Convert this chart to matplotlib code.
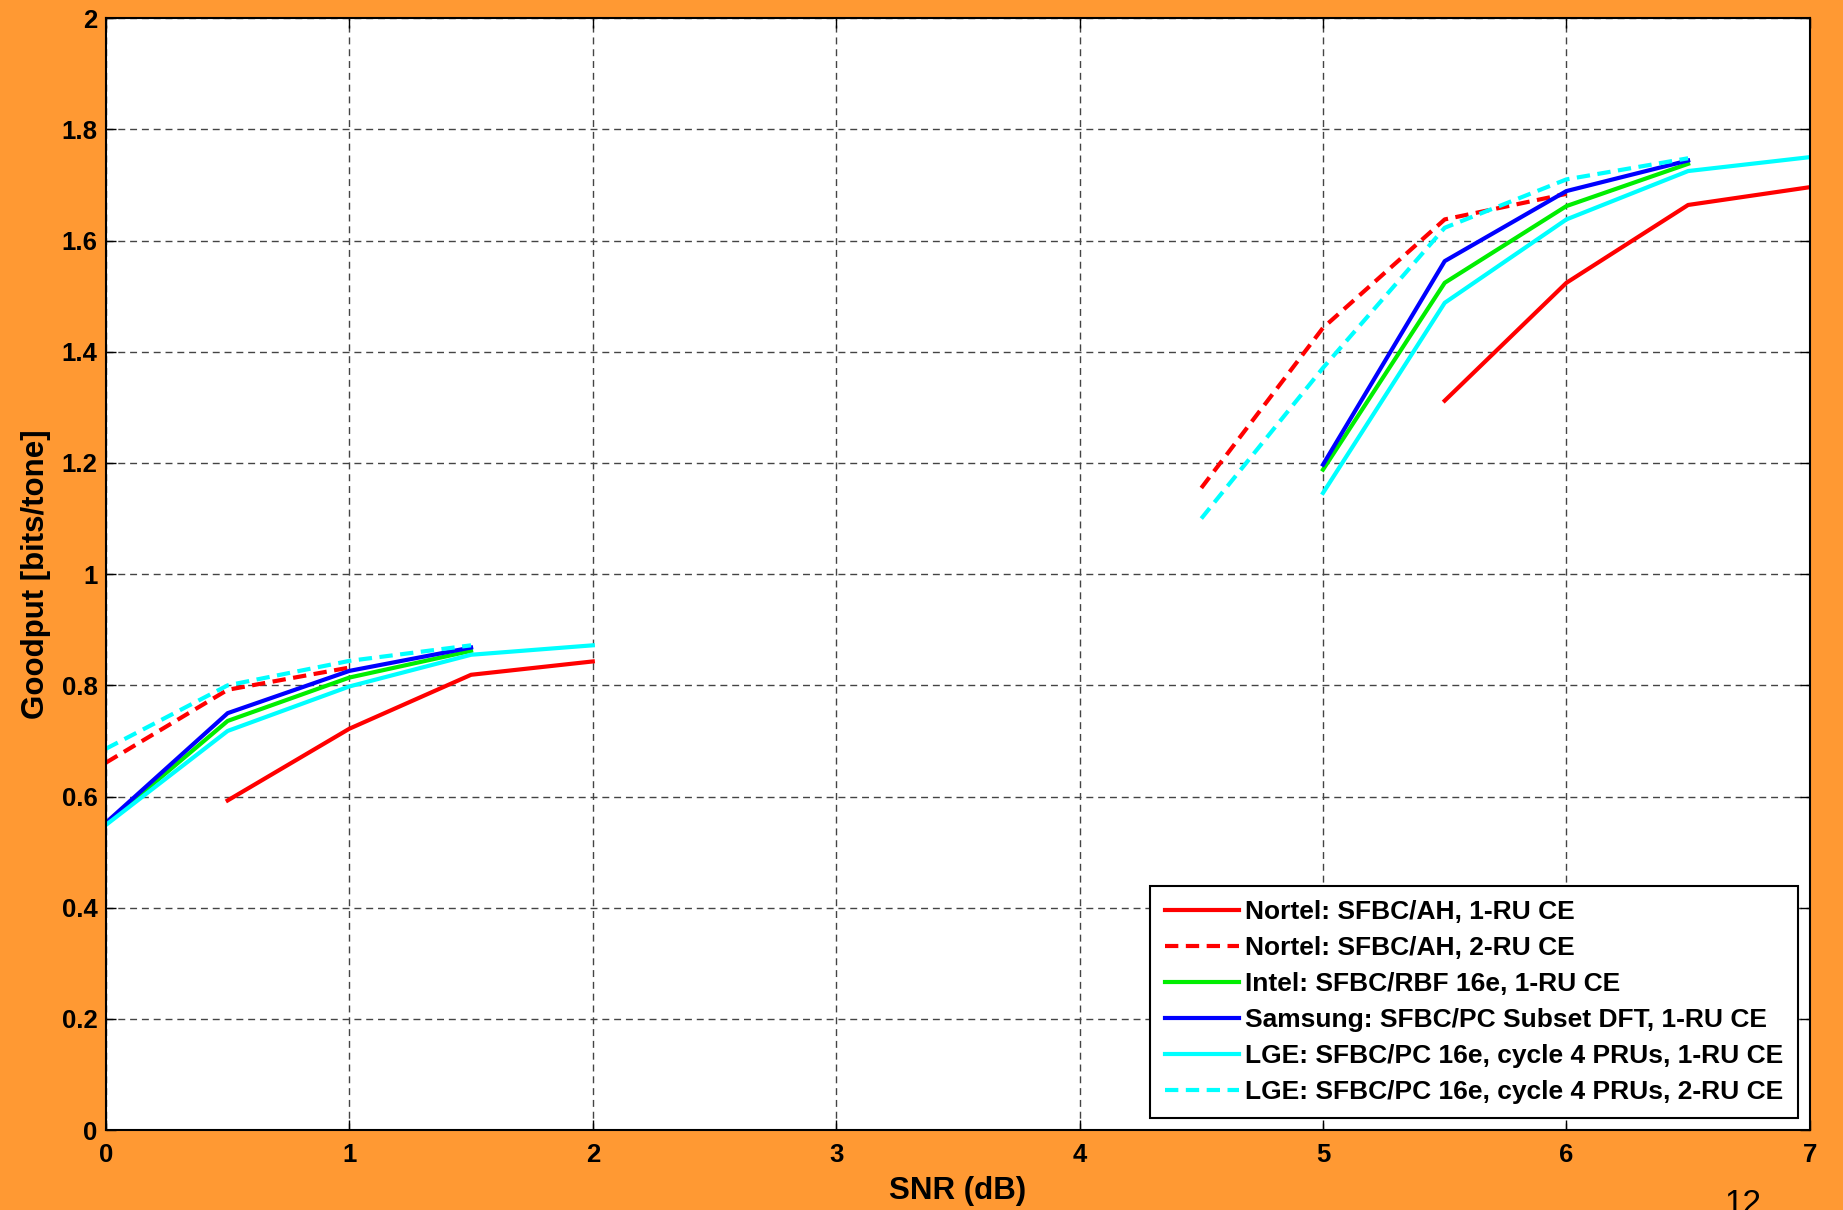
import numpy as np
import matplotlib.pyplot as plt

plt.rcParams['font.family'] = ['Liberation Sans', 'DejaVu Sans']

# SNR grid (dB), NaN where a curve has no value
snr = [0, 0.5, 1, 1.5, 2, 2.5, 3, 3.5, 4, 4.5, 5, 5.5, 6, 6.5, 7]
nan = np.nan

nortel_1ru = [nan, 0.593, 0.722, 0.819, 0.843, nan, nan, nan, nan, nan, nan, 1.312, 1.524, 1.664, 1.696]
nortel_2ru = [0.661, 0.792, 0.832, nan, nan, nan, nan, nan, nan, 1.155, 1.443, 1.638, 1.684, nan, nan]
intel_1ru = [0.551, 0.736, 0.814, 0.862, nan, nan, nan, nan, nan, nan, 1.188, 1.524, 1.662, 1.738, nan]
samsung_1ru = [0.553, 0.750, 0.826, 0.868, nan, nan, nan, nan, nan, nan, 1.197, 1.563, 1.689, 1.744, nan]
lge_1ru = [0.549, 0.718, 0.798, 0.855, 0.872, nan, nan, nan, nan, nan, 1.146, 1.488, 1.638, 1.725, 1.750]
lge_2ru = [0.686, 0.800, 0.844, 0.872, nan, nan, nan, nan, nan, 1.100, 1.371, 1.623, 1.710, 1.748, nan]

labels = ['Nortel: SFBC/AH, 1-RU CE',
          'Nortel: SFBC/AH, 2-RU CE',
          'Intel: SFBC/RBF 16e, 1-RU CE',
          'Samsung: SFBC/PC Subset DFT, 1-RU CE',
          'LGE: SFBC/PC 16e, cycle 4 PRUs, 1-RU CE',
          'LGE: SFBC/PC 16e, cycle 4 PRUs, 2-RU CE']

bg = '#ff9933'
fig = plt.figure(figsize=(18.43, 12.10), dpi=100, facecolor=bg)
ax = fig.add_axes([0.0575, 0.066, 0.9245, 0.919])
ax.set_facecolor('white')

lw = 3.0
dash = (0, (3.2, 1.8))
ax.plot(snr, nortel_1ru, color='#ff0000', lw=lw, label=labels[0])
ax.plot(snr, nortel_2ru, color='#ff0000', lw=lw, ls=dash, label=labels[1])
ax.plot(snr, intel_1ru, color='#00ee00', lw=lw, label=labels[2])
ax.plot(snr, samsung_1ru, color='#0000ff', lw=lw, label=labels[3])
ax.plot(snr, lge_1ru, color='#00ffff', lw=lw, label=labels[4])
ax.plot(snr, lge_2ru, color='#00ffff', lw=lw, ls=dash, label=labels[5])

ax.set_xlim(0, 7)
ax.set_ylim(0, 2)
ax.set_xticks(range(0, 8))
ax.set_yticks([0, 0.2, 0.4, 0.6, 0.8, 1, 1.2, 1.4, 1.6, 1.8, 2])
ax.set_yticklabels(['0', '0.2', '0.4', '0.6', '0.8', '1', '1.2', '1.4', '1.6', '1.8', '2'])
ax.tick_params(direction='in', length=7, width=1, top=True, right=True,
               labelsize=18.5)
ax.tick_params(axis='x', pad=9)
ax.tick_params(axis='y', pad=6)
for lab in ax.get_xticklabels() + ax.get_yticklabels():
    lab.set_fontweight('bold')

ax.grid(True, color='#444444', lw=1, ls=(0, (5, 3.5)))
for s in ax.spines.values():
    s.set_linewidth(1.5)

ax.set_xlabel('SNR (dB)', fontsize=22.5, fontweight='bold', labelpad=7)
ax.set_ylabel('Goodput [bits/tone]', fontsize=22.5, fontweight='bold', labelpad=8)

leg = ax.legend(loc='lower right', prop={'weight': 'bold', 'size': 19},
                fancybox=False, framealpha=1, edgecolor='black',
                handlelength=2.8, handletextpad=0.25, labelspacing=0.45,
                borderaxespad=0.45, borderpad=0.55)
leg.get_frame().set_linewidth(1.5)

fig.text(0.946, 0.017, '12', fontsize=24, va='top', ha='center')

fig.savefig('out.png', dpi=100, facecolor=bg)
